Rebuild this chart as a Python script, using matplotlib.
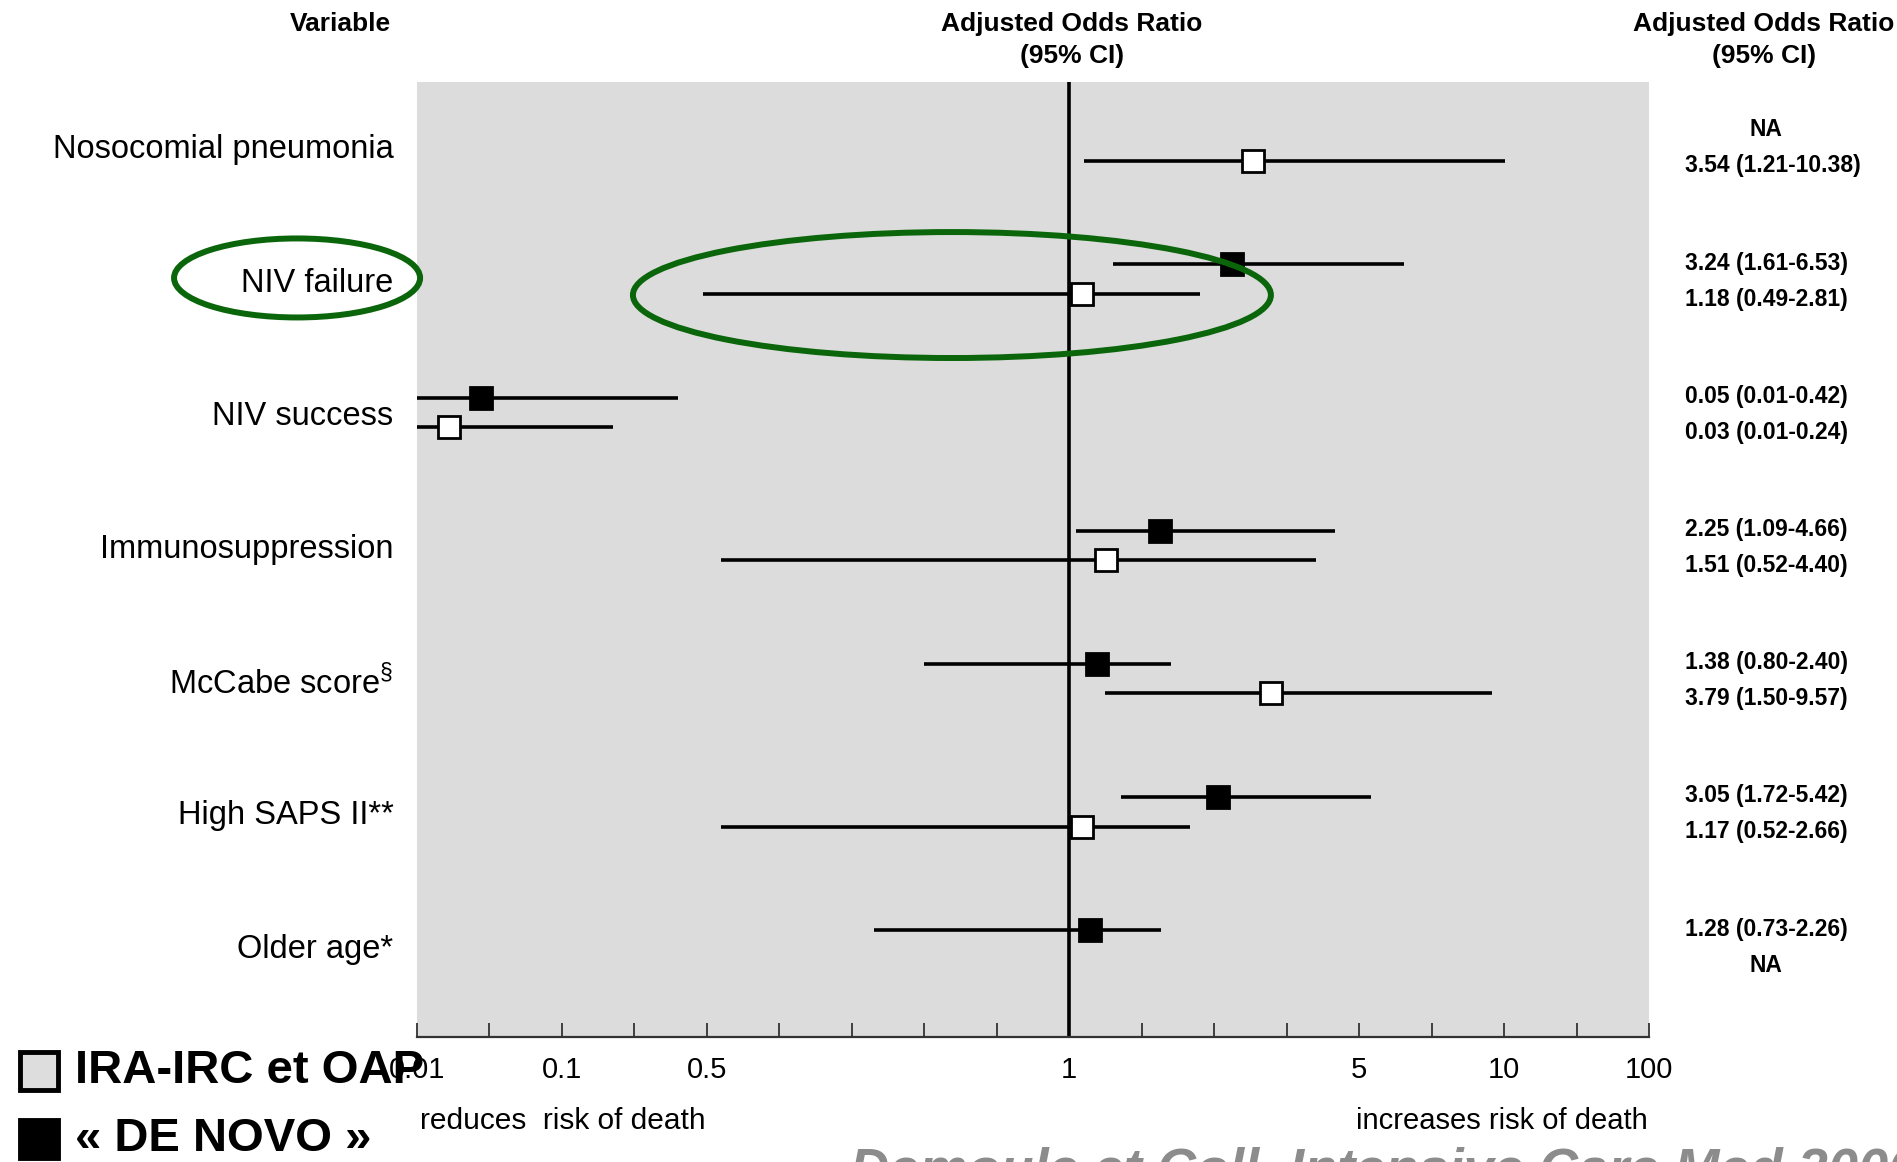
import numpy as np
import matplotlib.pyplot as plt
from matplotlib.patches import Ellipse, Rectangle

plt.rcParams['mathtext.fontset'] = 'custom'
plt.rcParams['mathtext.rm'] = 'Liberation Sans'

variables = ["Nosocomial pneumonia", "NIV failure", "NIV success",
             "Immunosuppression", r"McCabe score$^{\S}$", "High SAPS II**",
             "Older age*"]

# « DE NOVO » group (filled squares)
novo_or = [np.nan, 3.24, 0.05, 2.25, 1.38, 3.05, 1.28]
novo_lo = [np.nan, 1.61, 0.01, 1.09, 0.80, 1.72, 0.73]
novo_hi = [np.nan, 6.53, 0.42, 4.66, 2.40, 5.42, 2.26]
novo_txt = ["NA", "3.24 (1.61-6.53)", "0.05 (0.01-0.42)", "2.25 (1.09-4.66)",
            "1.38 (0.80-2.40)", "3.05 (1.72-5.42)", "1.28 (0.73-2.26)"]

# IRA-IRC et OAP group (open squares)
ira_or = [3.54, 1.18, 0.03, 1.51, 3.79, 1.17, np.nan]
ira_lo = [1.21, 0.49, 0.01, 0.52, 1.50, 0.52, np.nan]
ira_hi = [10.38, 2.81, 0.24, 4.40, 9.57, 2.66, np.nan]
ira_txt = ["3.54 (1.21-10.38)", "1.18 (0.49-2.81)", "0.03 (0.01-0.24)",
           "1.51 (0.52-4.40)", "3.79 (1.50-9.57)", "1.17 (0.52-2.66)", "NA"]

# odds-ratio axis: labelled values and their slot on an evenly ticked ruler
tick_vals = [0.01, 0.1, 0.5, 1, 5, 10, 100]
tick_slot = [0, 2, 4, 9, 13, 15, 17]
n_slots = 17


def forward(x):
    return np.interp(x, tick_vals, tick_slot)


def inverse(s):
    return np.interp(s, tick_slot, tick_vals)


narrow = ['Liberation Sans Narrow', 'Liberation Sans']
green = '#0b660b'

fig = plt.figure(figsize=(18.97, 11.62), dpi=100)
ax = fig.add_axes([0.2198, 0.1076, 0.6495, 0.8218])
ax.set_facecolor('#dcdcdc')
ax.set_xscale('function', functions=(forward, inverse))
ax.set_xlim(0.01, 100)
ax.set_ylim(6.69, -0.48)

rows = np.arange(len(variables))
y_novo = rows - 0.11
y_ira = rows + 0.11

ax.axvline(1, color='black', lw=2.6, zorder=2)
ax.hlines(y_novo, novo_lo, novo_hi, color='black', lw=2.6, zorder=3)
ax.hlines(y_ira, ira_lo, ira_hi, color='black', lw=2.6, zorder=3)
ax.plot(novo_or, y_novo, 's', ms=16, mfc='black', mec='black', mew=2, zorder=4)
ax.plot(ira_or, y_ira, 's', ms=16, mfc='white', mec='black', mew=2, zorder=4)

for s in ['left', 'top', 'right']:
    ax.spines[s].set_visible(False)
ax.spines['bottom'].set_color('#333333')
ax.spines['bottom'].set_linewidth(1.6)
ax.set_yticks([])
ax.set_xticks(tick_vals)
ax.set_xticklabels([f"{v:g}" for v in tick_vals], fontfamily=narrow, fontsize=21)
minor = [inverse(s) for s in range(n_slots + 1) if s not in tick_slot]
ax.set_xticks(minor, minor=True)
ax.tick_params(axis='x', which='both', direction='in', length=10, width=1.3,
               color='#333333', pad=14)

# variable names and estimates beside the plot
ytf = ax.get_yaxis_transform()
for i, name in enumerate(variables):
    ax.text(-0.019, rows[i] + 0.03, name, transform=ytf, ha='right',
            va='center', fontsize=23.5, fontfamily='Liberation Sans')
    for txt, yy in [(novo_txt[i], rows[i] - 0.12), (ira_txt[i], rows[i] + 0.15)]:
        if txt == "NA":
            ax.text(1.095, yy, txt, transform=ytf, ha='center', va='center',
                    fontsize=16.5, fontweight='bold', fontfamily=narrow)
        else:
            ax.text(1.029, yy, txt, transform=ytf, ha='left', va='center',
                    fontsize=16.5, fontweight='bold', fontfamily=narrow)

# column headers
hdr = dict(ha='center', va='center', fontsize=19, fontweight='bold',
           fontfamily=narrow)
fig.text(0.1792, 0.9793, "Variable", **hdr)
fig.text(0.5651, 0.9793, "Adjusted Odds Ratio", **hdr)
fig.text(0.5651, 0.9518, "(95% CI)", **hdr)
fig.text(0.9299, 0.9793, "Adjusted Odds Ratio", **hdr)
fig.text(0.9299, 0.9518, "(95% CI)", **hdr)

# direction captions under the axis
fig.text(0.2214, 0.0353, "reduces  risk of death", ha='left', va='center',
         fontsize=21.5, fontfamily=narrow)
fig.text(0.8688, 0.0353, "increases risk of death", ha='right', va='center',
         fontsize=21, fontfamily=narrow)

# group key
fig.add_artist(Rectangle((0.0105, 0.0620), 0.0200, 0.0330, transform=fig.transFigure,
                         facecolor='#dddddd', edgecolor='black', lw=3.5))
fig.add_artist(Rectangle((0.0105, 0.0035), 0.0200, 0.0330, transform=fig.transFigure,
                         facecolor='black', edgecolor='black', lw=3.5))
fig.text(0.0395, 0.0783, "IRA-IRC et OAP", ha='left', va='center', fontsize=34,
         fontweight='bold', fontfamily='Liberation Sans')
fig.text(0.0395, 0.0200, "« DE NOVO »", ha='left', va='center', fontsize=34,
         fontweight='bold', fontfamily='Liberation Sans')

fig.text(0.448, 0.0135, "Demoule et Coll. Intensive Care Med 2006", ha='left',
         va='top', fontsize=39, fontweight='bold', fontstyle='italic',
         color='#8c8c8c', fontfamily='Liberation Sans')

# highlight rings around NIV failure
fig.add_artist(Ellipse((0.1566, 0.7608), 0.1297, 0.0680, transform=fig.transFigure,
                       fill=False, edgecolor=green, lw=4.3))
fig.add_artist(Ellipse((0.5018, 0.7461), 0.3363, 0.1084, transform=fig.transFigure,
                       fill=False, edgecolor=green, lw=4.3))

fig.savefig('out.png', dpi=100)
